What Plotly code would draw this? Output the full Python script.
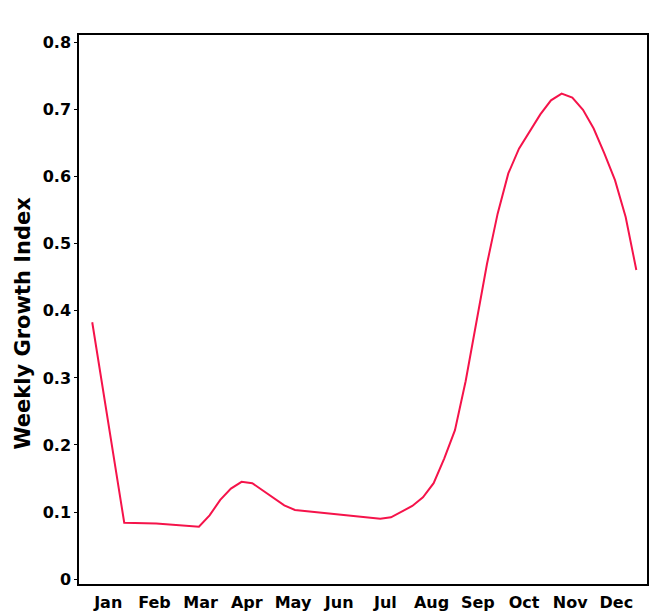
import plotly.graph_objects as go

# Weekly growth index over the year (week number -> index value)
weeks = [1, 4, 7, 9, 11, 12, 13, 14, 15, 16, 17, 18, 19, 20, 22, 24, 26, 28, 29, 30,
         31, 32, 33, 34, 35, 36, 37, 38, 39, 40, 41, 42, 43, 44, 45, 46, 47, 48, 49,
         50, 51, 52]
growth_index = [0.383, 0.084, 0.083, 0.080, 0.078, 0.095, 0.118, 0.135, 0.145, 0.143,
                0.132, 0.120, 0.110, 0.103, 0.100, 0.097, 0.093, 0.090, 0.092, 0.100,
                0.109, 0.122, 0.143, 0.180, 0.222, 0.295, 0.380, 0.470, 0.545, 0.605,
                0.642, 0.668, 0.693, 0.714, 0.724, 0.718, 0.700, 0.672, 0.635, 0.595,
                0.540, 0.461]

month_labels = ["Jan", "Feb", "Mar", "Apr", "May", "Jun",
                "Jul", "Aug", "Sep", "Oct", "Nov", "Dec"]
# month labels sit at mid-month, expressed in weeks
month_weeks = [2.5 + i * 4.33 for i in range(12)]

y_ticks = [0, 0.1, 0.2, 0.3, 0.4, 0.5, 0.6, 0.7, 0.8]
y_tick_text = ["0", "0.1", "0.2", "0.3", "0.4", "0.5", "0.6", "0.7", "0.8"]

y_title = "Weekly Growth Index"

font_family = "DejaVu Sans, Verdana, sans-serif"

fig = go.Figure()
fig.add_trace(go.Scatter(
    x=weeks, y=growth_index, mode="lines",
    line=dict(color="#f5134a", width=2),
    showlegend=False,
))

fig.update_layout(
    width=652, height=615,
    margin=dict(l=79, r=3, t=35, b=30),
    paper_bgcolor="white", plot_bgcolor="white",
    font=dict(family=font_family, color="black"),
)
fig.update_xaxes(
    range=[-0.24, 53.0],
    tickvals=month_weeks, ticktext=month_labels,
    tickfont=dict(size=16, family=font_family, weight="bold"),
    showgrid=False, zeroline=False,
    showline=True, linecolor="black", linewidth=1.5, mirror=True,
    ticks="", ticklabelstandoff=3,
)
fig.update_yaxes(
    range=[-0.0074, 0.8115],
    tickvals=y_ticks, ticktext=y_tick_text,
    tickfont=dict(size=16, family=font_family, weight="bold"),
    showgrid=False, zeroline=False,
    showline=True, linecolor="black", linewidth=1.5, mirror=True,
    ticks="outside", ticklen=3, tickcolor="black",
)

# rotated y-axis title, placed slightly below the vertical centre
fig.add_annotation(
    text=y_title, textangle=-90,
    xref="paper", yref="paper", x=-0.098, y=0.475,
    xanchor="center", yanchor="middle", showarrow=False,
    font=dict(size=21, family=font_family, weight="bold", color="black"),
)

fig.write_html("out.html")
